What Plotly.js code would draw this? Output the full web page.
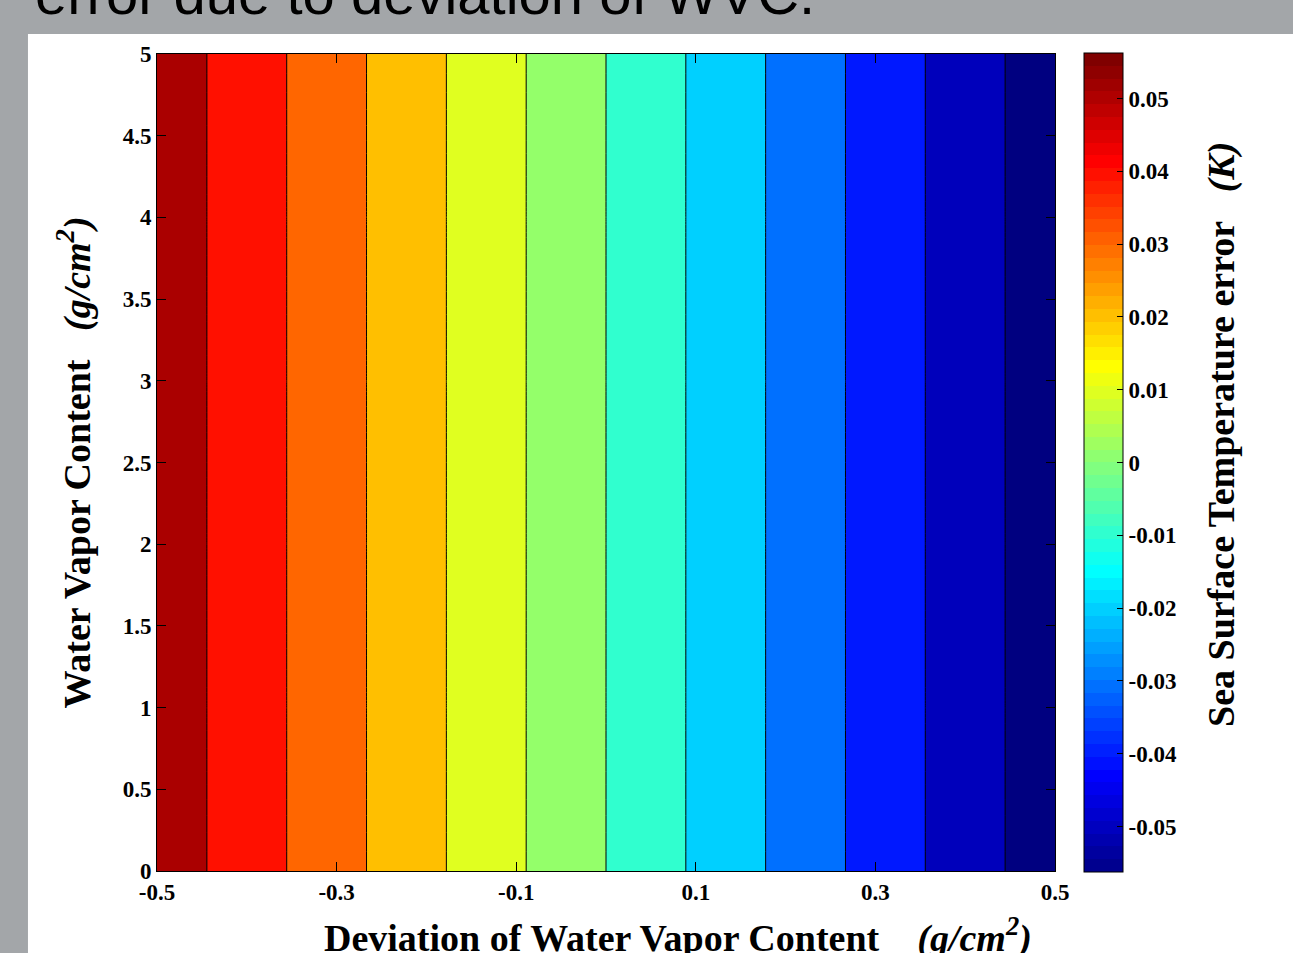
<!DOCTYPE html>
<html>
<head>
<meta charset="utf-8">
<script src="https://cdn.plot.ly/plotly-3.0.1.min.js"></script>
<style>
  html, body { margin: 0; padding: 0; background: #a3a6a9; }
  #chart { width: 1293px; height: 953px; }
</style>
</head>
<body>
<div id="chart"></div>
<script>
// ---- data ----
const deviationWVC = [-0.5, -0.4, -0.3, -0.2, -0.1, 0, 0.1, 0.2, 0.3, 0.4, 0.5];      // g/cm^2
const waterVapor = [0, 1, 2, 3, 4, 5];                                                 // g/cm^2
const sstError = [0.05625, 0.045, 0.03375, 0.0225, 0.01125, 0, -0.01125, -0.0225, -0.03375, -0.045, -0.05625]; // K
const xTickVals = [-0.5, -0.3, -0.1, 0.1, 0.3, 0.5];
const xTickText = ['-0.5', '-0.3', '-0.1', '0.1', '0.3', '0.5'];
const yTickVals = [0, 0.5, 1, 1.5, 2, 2.5, 3, 3.5, 4, 4.5, 5];
const yTickText = ['0', '0.5', '1', '1.5', '2', '2.5', '3', '3.5', '4', '4.5', '5'];
const cbTickVals = [-0.05, -0.04, -0.03, -0.02, -0.01, 0, 0.01, 0.02, 0.03, 0.04, 0.05];
const cbTickText = ['-0.05', '-0.04', '-0.03', '-0.02', '-0.01', '0', '0.01', '0.02', '0.03', '0.04', '0.05'];

// ---- styles ----
const bandColors = ['#000080', '#0000bb', '#0018ff', '#0070ff', '#00d0ff', '#30ffcf',
                    '#94ff6a', '#e0ff20', '#ffbf00', '#ff6600', '#ff1000', '#aa0000'];
const bandScale = bandColors.map((c, i) => [i / (bandColors.length - 1), c]);

// MATLAB jet(64) as a stepped colorscale for the colorbar
function jet64() {
  const m = 64, n = 16;
  const u = [];
  for (let i = 1; i <= n; i++) u.push(i / n);
  for (let i = 0; i < n - 1; i++) u.push(1);
  for (let i = n; i >= 1; i--) u.push(i / n);
  const J = Array.from({length: m}, () => [0, 0, 0]);
  for (let k = 1; k <= u.length; k++) {
    const g = Math.ceil(n / 2) + k;
    const r = g + n, b = g - n;
    if (r <= m) J[r - 1][0] = u[k - 1];
    J[g - 1][1] = u[k - 1];
    if (b >= 1) J[b - 1][2] = u[k - 1];
  }
  const scale = [];
  J.forEach((c, i) => {
    const col = 'rgb(' + c.map(v => Math.round(v * 255)).join(',') + ')';
    scale.push([i / m, col]);
    scale.push([(i + 1) / m, col]);
  });
  return scale;
}

const zGrid = waterVapor.map(() => sstError);
const serif = 'Liberation Serif, Times New Roman, serif';
const zAbs = 0.05625;

const traces = [
  {
    type: 'heatmap',
    x: deviationWVC, y: waterVapor, z: zGrid,
    colorscale: jet64(), zmin: -zAbs, zmax: zAbs,
    hoverinfo: 'skip',
    colorbar: {
      x: 1.0323, xanchor: 'left', xpad: 0,
      y: 0.5, yanchor: 'middle', len: 1.002, lenmode: 'fraction', ypad: 0,
      thickness: 39, thicknessmode: 'pixels',
      outlinecolor: '#000', outlinewidth: 1,
      tickmode: 'array', tickvals: cbTickVals, ticktext: cbTickText,
      ticks: 'inside', ticklen: 6, tickcolor: '#000', tickwidth: 1,
      tickfont: {family: serif, size: 23, color: '#000', weight: 'bold'},
      ticklabelposition: 'outside'
    }
  },
  {
    type: 'contour',
    x: deviationWVC, y: waterVapor, z: zGrid,
    autocontour: false,
    contours: {start: -0.05, end: 0.05, size: 0.01, coloring: 'fill', showlines: true},
    colorscale: bandScale,
    line: {color: '#000', width: 1, smoothing: 0},
    showscale: false,
    hoverinfo: 'x+y+z'
  }
];

const axisCommon = {
  showline: true, linecolor: '#000', linewidth: 1, mirror: 'ticks',
  ticks: 'inside', ticklen: 9, tickcolor: '#000', tickwidth: 1,
  showgrid: false, zeroline: false,
  tickfont: {family: serif, size: 23, color: '#000', weight: 'bold'}
};

const layout = {
  width: 1293, height: 953,
  paper_bgcolor: '#a3a6a9', plot_bgcolor: '#ffffff',
  margin: {l: 157, r: 238, t: 54, b: 82, autoexpand: false},
  showlegend: false,
  xaxis: Object.assign({}, axisCommon, {
    range: [-0.5, 0.5], tickmode: 'array', tickvals: xTickVals, ticktext: xTickText
  }),
  yaxis: Object.assign({}, axisCommon, {
    range: [0, 5], tickmode: 'array', tickvals: yTickVals, ticktext: yTickText,
    title: {
      text: 'Water Vapor Content\u00a0\u00a0 <i>(g/cm<sup>2</sup>)</i>',
      font: {family: serif, size: 38, color: '#000', weight: 'bold'},
      standoff: 20
    }
  }),
  shapes: [{
    type: 'rect', xref: 'paper', yref: 'paper', layer: 'below',
    x0: -0.1437, x1: 1.27, y0: -0.11, y1: 1.0245,
    fillcolor: '#ffffff', line: {width: 0}
  }],
  annotations: [
    {
      text: 'error due to deviation of WVC.',
      xref: 'paper', yref: 'paper', x: -0.138, y: 1.0745,
      xanchor: 'left', yanchor: 'middle', showarrow: false,
      font: {family: 'Liberation Sans, Arial, sans-serif', size: 58, color: '#000'}
    },
    {
      text: '<b>Deviation of Water Vapor Content</b>\u00a0\u00a0\u00a0 <b><i>(g/cm<sup>2</sup>)</i></b>',
      xref: 'paper', yref: 'paper', x: 0.58, y: -0.0795,
      xanchor: 'center', yanchor: 'middle', showarrow: false,
      font: {family: serif, size: 38, color: '#000'}
    },
    {
      text: '<b>Sea Surface Temperature error</b>\u00a0\u00a0 <b><i>(K)</i></b>',
      xref: 'paper', yref: 'paper', x: 1.186, y: 0.5337,
      xanchor: 'center', yanchor: 'middle', showarrow: false, textangle: -90,
      font: {family: serif, size: 38, color: '#000'}
    }
  ]
};

Plotly.newPlot('chart', traces, layout, {displayModeBar: false, staticPlot: false});
</script>
</body>
</html>
